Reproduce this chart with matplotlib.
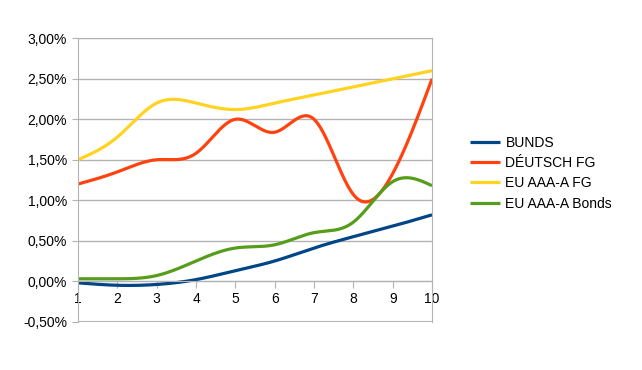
import numpy as np
import matplotlib
matplotlib.use("Agg")
import matplotlib.pyplot as plt
from matplotlib.ticker import FuncFormatter

plt.rcParams['font.family'] = ['Liberation Sans', 'DejaVu Sans']

years = [1, 2, 3, 4, 5, 6, 7, 8, 9, 10]
bunds = [-0.02, -0.05, -0.04, 0.02, 0.13, 0.25, 0.41, 0.55, 0.68, 0.82]
deutsch_fg = [1.20, 1.35, 1.50, 1.58, 2.00, 1.84, 2.00, 1.07, 1.33, 2.50]
eu_aaa_fg = [1.50, 1.78, 2.20, 2.20, 2.12, 2.20, 2.30, 2.40, 2.50, 2.60]
eu_aaa_bonds = [0.03, 0.03, 0.07, 0.25, 0.41, 0.45, 0.60, 0.73, 1.23, 1.18]

series = [
    ("BUNDS", bunds, "#004586"),
    ("DÉUTSCH FG", deutsch_fg, "#ff420e"),
    ("EU AAA-A FG", eu_aaa_fg, "#ffd320"),
    ("EU AAA-A Bonds", eu_aaa_bonds, "#579d1c"),
]


def natural_spline(x, y, n=300):
    # plain natural cubic spline, like the smoothed lines of a spreadsheet
    x = np.asarray(x, float)
    y = np.asarray(y, float)
    k = len(x)
    h = np.diff(x)
    A = np.zeros((k, k))
    b = np.zeros(k)
    A[0, 0] = 1
    A[-1, -1] = 1
    for i in range(1, k - 1):
        A[i, i - 1] = h[i - 1]
        A[i, i] = 2 * (h[i - 1] + h[i])
        A[i, i + 1] = h[i]
        b[i] = 3 * ((y[i + 1] - y[i]) / h[i] - (y[i] - y[i - 1]) / h[i - 1])
    c = np.linalg.solve(A, b)
    xs = np.linspace(x[0], x[-1], n)
    ys = np.empty_like(xs)
    for j, xv in enumerate(xs):
        i = min(np.searchsorted(x, xv, side="right") - 1, k - 2)
        dx = xv - x[i]
        bi = (y[i + 1] - y[i]) / h[i] - h[i] * (2 * c[i] + c[i + 1]) / 3
        di = (c[i + 1] - c[i]) / (3 * h[i])
        ys[j] = y[i] + bi * dx + c[i] * dx ** 2 + di * dx ** 3
    return xs, ys


fig = plt.figure(figsize=(6.42, 3.70), dpi=100)
ax = fig.add_axes([0.1215, 0.1305, 0.5515, 0.766])

for name, vals, color in series:
    xs, ys = natural_spline(years, vals)
    ax.plot(xs, ys, color=color, lw=2.3, label=name, solid_capstyle="butt")

ax.set_xlim(1, 10)
ax.set_ylim(-0.5, 3.0)
ax.set_xticks(years)
ax.set_yticks(np.arange(-0.5, 3.01, 0.5))
ax.yaxis.set_major_formatter(FuncFormatter(lambda v, p: f"{v:.2f}%".replace(".", ",")))

grid_col = "#b3b3b3"
ax.grid(axis="y", color=grid_col, lw=1)
ax.set_axisbelow(True)
for s in ["left", "right", "top", "bottom"]:
    ax.spines[s].set_color(grid_col)
ax.spines["bottom"].set_position(("data", 0))
ax.axhline(-0.5, color=grid_col, lw=1.5, zorder=0)

ax.tick_params(axis="x", direction="out", length=5, color=grid_col, labelsize=10, pad=3)
ax.tick_params(axis="y", direction="out", length=4, color=grid_col, labelsize=10, pad=4)

fig.legend(loc="center left", bbox_to_anchor=(0.732, 0.532), frameon=False,
           fontsize=10, handlelength=2.2, handletextpad=0.36, labelspacing=0.45,
           borderpad=0, borderaxespad=0)

fig.savefig("out.png", dpi=100)
